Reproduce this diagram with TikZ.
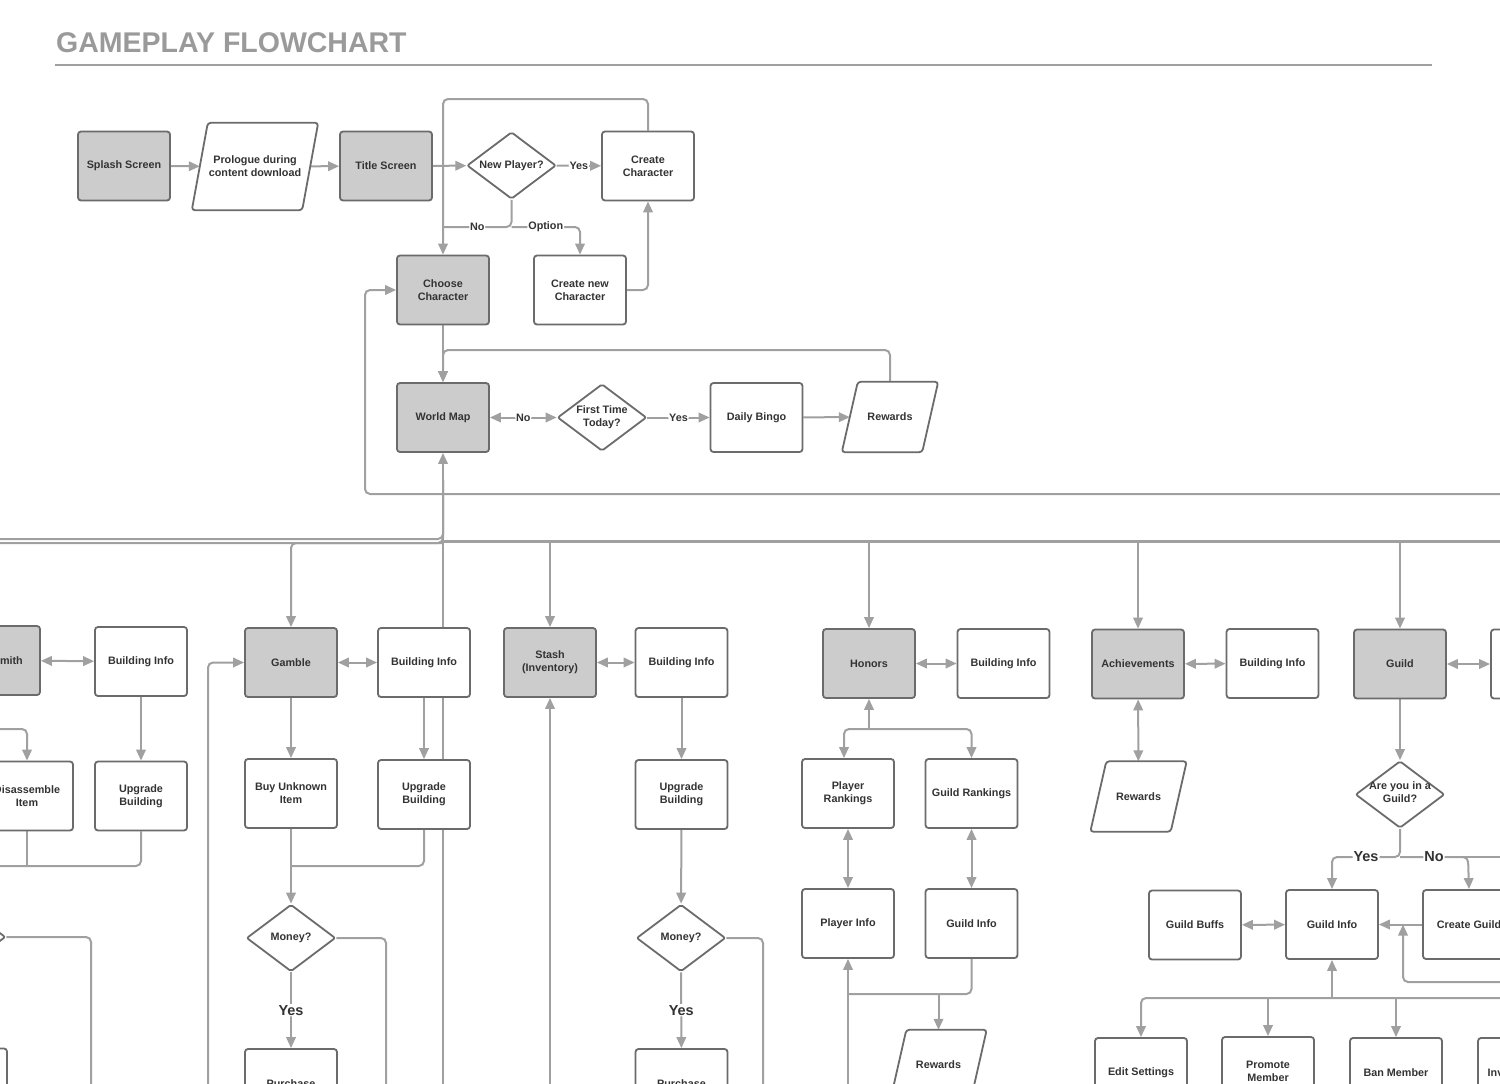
\documentclass[tikz,border=0pt]{standalone}
\usepackage{fontspec}
\setmainfont{Liberation Sans}
\usetikzlibrary{shapes.geometric,arrows.meta,calc}
\definecolor{boxfill}{HTML}{CCCCCC}
\definecolor{boxline}{HTML}{6B6B6B}
\definecolor{conncol}{HTML}{A0A0A0}
\definecolor{txtcol}{HTML}{333333}
\definecolor{titlecol}{HTML}{9A9A9A}
\pgfdeclarelayer{bg}
\pgfsetlayers{bg,main}
\tikzset{
  nfont/.style={font=\bfseries\fontsize{10.8}{13}\selectfont},
  box/.style={draw=boxline, line width=1.8pt, rounded corners=3pt, fill=white,
    minimum width=92pt, minimum height=69pt, align=center, inner sep=2pt,
    text=txtcol, nfont},
  gbox/.style={box, fill=boxfill},
  dia/.style={draw=boxline, line width=1.8pt, diamond, aspect=1.32,
    minimum width=89pt, minimum height=67pt, inner sep=0pt, fill=white,
    rounded corners=2pt},
  dtext/.style={align=center, text=txtcol, nfont, inner sep=0pt},
  parabox/.style={rectangle, minimum width=80pt, minimum height=70pt,
    align=center, text=txtcol, nfont, inner sep=1pt},
  paraline/.style={draw=boxline, line width=1.8pt, fill=white, rounded corners=3pt},
  conn/.style={draw=conncol, line width=2pt, rounded corners=5pt},
  arr/.style={conn, -{Triangle[length=11pt,width=9.5pt]}},
  darr/.style={conn, {Triangle[length=11pt,width=9.5pt]}-{Triangle[length=11pt,width=9.5pt]}},
  lab/.style={fill=white, inner sep=1pt, text=txtcol, nfont},
  labbig/.style={lab, font=\bfseries\fontsize{14.5}{16}\selectfont},
}
\newcommand\parashape[2]{%
  \draw[paraline] ($(#1.south west)+(-#2,0)$) -- ($(#1.south east)+(-#2,0)$)
    -- ($(#1.north east)+(#2,0)$) -- ($(#1.north west)+(#2,0)$) -- cycle;}
\begin{document}
\begin{tikzpicture}[x=1pt,y=-1pt]
\useasboundingbox (0,0) rectangle (1500,1084);
\clip (0,0) rectangle (1500,1084);

% title
\node[anchor=base west, inner sep=0pt, text=titlecol,
  font=\bfseries\fontsize{28.5}{30}\selectfont] (heading) at (56,52) {GAMEPLAY FLOWCHART};
\draw[draw=conncol, line width=2pt] (55,65) -- (1432,65);

% ---------- top section ----------
\node[gbox] (splash) at (124,166) {Splash Screen};
\node[parabox, minimum width=110pt, minimum height=87pt] (prol) at (255,166.5) {Prologue during\\content download};
\node[gbox] (titlescr) at (386,166) {Title Screen};
\node[dia] (newp) at (511.5,165.5) {};
\node[dtext] (newpt) at (newp) {New Player?};
\node[box] (cchar) at (648,166) {Create\\Character};
\node[gbox] (choose) at (443,290) {Choose\\Character};
\node[box] (cnew) at (580,290) {Create new\\Character};
\node[gbox] (wm) at (443,417.5) {World Map};
\node[dia] (ftt) at (602,417.5) {};
\node[dtext] (fttt) at (ftt) {First Time\\Today?};
\node[box] (bingo) at (756.5,417.5) {Daily Bingo};
\node[parabox] (rew1) at (890,417) {Rewards};

% ---------- smith column ----------
\node[gbox] (bs) at (-6,660.5) {Blacksmith};
\node[box] (bbi) at (141,661.5) {Building Info};
\node[box] (dis) at (27,796) {Disassemble\\Item};
\node[box] (bupg) at (141,796) {Upgrade\\Building};
\node[dia] (bmoney) at (-39,937) {};
\node[box] (bpur) at (-39,1083) {};

% ---------- gamble column ----------
\node[gbox] (gamble) at (291,662.5) {Gamble};
\node[box] (gbi) at (424,662.5) {Building Info};
\node[box] (buy) at (291,793.5) {Buy Unknown\\Item};
\node[box] (gupg) at (424,794.5) {Upgrade\\Building};
\node[dia] (gmoney) at (291,938) {};
\node[dtext] (gmoneyt) at (gmoney) {Money?};
\node[box] (gpur) at (291,1083.5) {Purchase};

% ---------- stash column ----------
\node[gbox] (stash) at (550,662.5) {Stash\\(Inventory)};
\node[box] (sbi) at (681.5,662.5) {Building Info};
\node[box] (supg) at (681.5,794.5) {Upgrade\\Building};
\node[dia] (smoney) at (681,938) {};
\node[dtext] (smoneyt) at (smoney) {Money?};
\node[box] (spur) at (681.5,1083.5) {Purchase};

% ---------- honors column ----------
\node[gbox] (honors) at (869,663.5) {Honors};
\node[box] (hbi) at (1003.5,663.5) {Building Info};
\node[box] (prank) at (848,793.5) {Player\\Rankings};
\node[box] (grank) at (971.5,793.5) {Guild Rankings};
\node[box] (pinfo) at (848,923.5) {Player Info};
\node[box] (ginfo) at (971.5,923.5) {Guild Info};
\node[parabox] (rew3) at (938.5,1065) {Rewards};

% ---------- achievements column ----------
\node[gbox] (ach) at (1138,664) {Achievements};
\node[box] (abi) at (1272.5,663.5) {Building Info};
\node[parabox] (rew2) at (1138.5,796.5) {Rewards};

% ---------- guild column ----------
\node[gbox] (guild) at (1400,664) {Guild};
\node[box] (gdbi) at (1537,664) {};
\node[dia] (inguild) at (1400,794.5) {};
\node[dtext] (inguildt) at (1400,792.5) {Are you in a\\Guild?};
\node[box] (gdinfo) at (1332,924.5) {Guild Info};
\node[box] (buffs) at (1195,925) {Guild Buffs};
\node[box] (cguild) at (1469,924.5) {Create Guild};
\node[box] (edit) at (1141,1072.5) {Edit Settings};
\node[box] (promote) at (1268,1071.5) {Promote\\Member};
\node[box] (ban) at (1396,1072.5) {Ban Member};
\node[box] (invite) at (1524,1072.5) {Invite Member};

\coordinate (cgjoin) at (1403,924.5);

\begin{pgfonlayer}{bg}
\clip (0,0) rectangle (1500,1084);
\fill[white] (0,0) rectangle (1500,1084);
% top flow
\draw[arr] (splash) -- (prol);
\draw[arr] (prol) -- (titlescr);
\draw[arr] (titlescr) -- (newp);
\draw[arr] (newp) -- node[lab]{Yes} (cchar);
\draw[conn] (newp.south) -- (511.5,227) -- node[lab]{No} (443,227);
\draw[arr] (511.5,227) -- node[lab]{Option} (580,227) -- (cnew.north);
\draw[arr] (cchar.north) -- (648,99) -- (443,99) -- (choose.north);
\draw[arr] (cnew.east) -- (648,290) -- (cchar.south);
\draw[arr] (choose) -- (wm);
\draw[darr] (wm) -- node[lab]{No} (ftt);
\draw[arr] (ftt) -- node[lab]{Yes} (bingo);
\draw[arr] (bingo) -- (rew1);
\draw[arr] (rew1.north) -- (890,350) -- (443,350) -- (wm.north);
\draw[arr] (1510,494) -- (365,494) -- (365,290) -- (choose.west);

% bus
\draw[arr] (443,1100) -- (wm.south);
\draw[arr] (443,480) -- (443,539) -- (-6,539) -- (bs.north);
\draw[conn] (443,480) -- (443,543) -- (-300,543);
\draw[conn, line width=3pt, rounded corners=0pt] (443,541) -- (1510,541);
\draw[arr] (443,543) -- (291,543) -- (gamble.north);
\draw[arr] (550,541) -- (stash.north);
\draw[arr] (869,541) -- (honors.north);
\draw[arr] (1138,541) -- (ach.north);
\draw[arr] (1400,541) -- (guild.north);

% smith
\draw[darr] (bs) -- (bbi);
\draw[arr] (bbi) -- (bupg);
\draw[arr] (bs.south) -- (-6,729) -- (27,729) -- (dis.north);
\draw[arr] (bupg.south) -- (141,866) -- (-39,866) -- (bmoney.north);
\draw[conn] (dis.south) -- (27,866);
\draw[conn] (bmoney.east) -- (91,937) -- (91,1100);

% gamble
\draw[arr] (208,1100) -- (208,662.5) -- (gamble.west);
\draw[darr] (gamble) -- (gbi);
\draw[arr] (gamble) -- (buy);
\draw[arr] (gbi) -- (gupg);
\draw[arr] (buy) -- (gmoney);
\draw[conn] (gupg.south) -- (424,866) -- (291,866);
\draw[conn] (gmoney.east) -- (386,938) -- (386,1100);
\draw[arr] (gmoney) -- node[labbig]{Yes} (gpur);

% stash
\draw[arr] (550,1100) -- (stash.south);
\draw[darr] (stash) -- (sbi);
\draw[arr] (sbi) -- (supg);
\draw[arr] (supg) -- (smoney);
\draw[conn] (smoney.east) -- (763,938) -- (763,1100);
\draw[arr] (smoney) -- node[labbig]{Yes} (spur);

% honors
\draw[darr] (honors) -- (hbi);
\draw[arr] (869,729) -- (honors.south);
\draw[arr] (869,729) -- (844,729) -- ([xshift=-4pt]prank.north);
\draw[arr] (869,729) -- (971.5,729) -- (grank.north);
\draw[darr] (prank) -- (pinfo);
\draw[darr] (grank) -- (ginfo);
\draw[arr] (848,1100) -- (pinfo.south);
\draw[conn] (ginfo.south) -- (971.5,994) -- (848,994);
\draw[arr] (938.5,994) -- (rew3.north);

% achievements
\draw[darr] (ach) -- (abi);
\draw[darr] (ach) -- (rew2);

% guild
\draw[darr] (guild) -- (gdbi);
\draw[arr] (guild) -- (inguild);
\draw[arr] (inguild.south) -- (1400,857) -- node[labbig]{Yes} (1332,857) -- (gdinfo.north);
\draw[arr] (1400,857) -- node[labbig]{No} (1468,857) -- (cguild.north);
\draw[conn] (1460,857) -- (1510,857);
\draw[darr] (buffs) -- (gdinfo);
\draw[arr] (cguild) -- (gdinfo);
\draw[arr] (1510,982) -- (1403,982) -- (cgjoin);
\draw[arr] (1332,998) -- (gdinfo.south);
\draw[arr] (1510,998) -- (1141,998) -- (edit.north);
\draw[arr] (1268,998) -- (promote.north);
\draw[arr] (1396,998) -- (ban.north);
\draw[arr] (1524,998) -- (invite.north);

% parallelogram outlines (under their texts)
\parashape{prol}{8}
\parashape{rew1}{8}
\parashape{rew2}{8}
\parashape{rew3}{8}
\end{pgfonlayer}
\end{tikzpicture}
\end{document}
